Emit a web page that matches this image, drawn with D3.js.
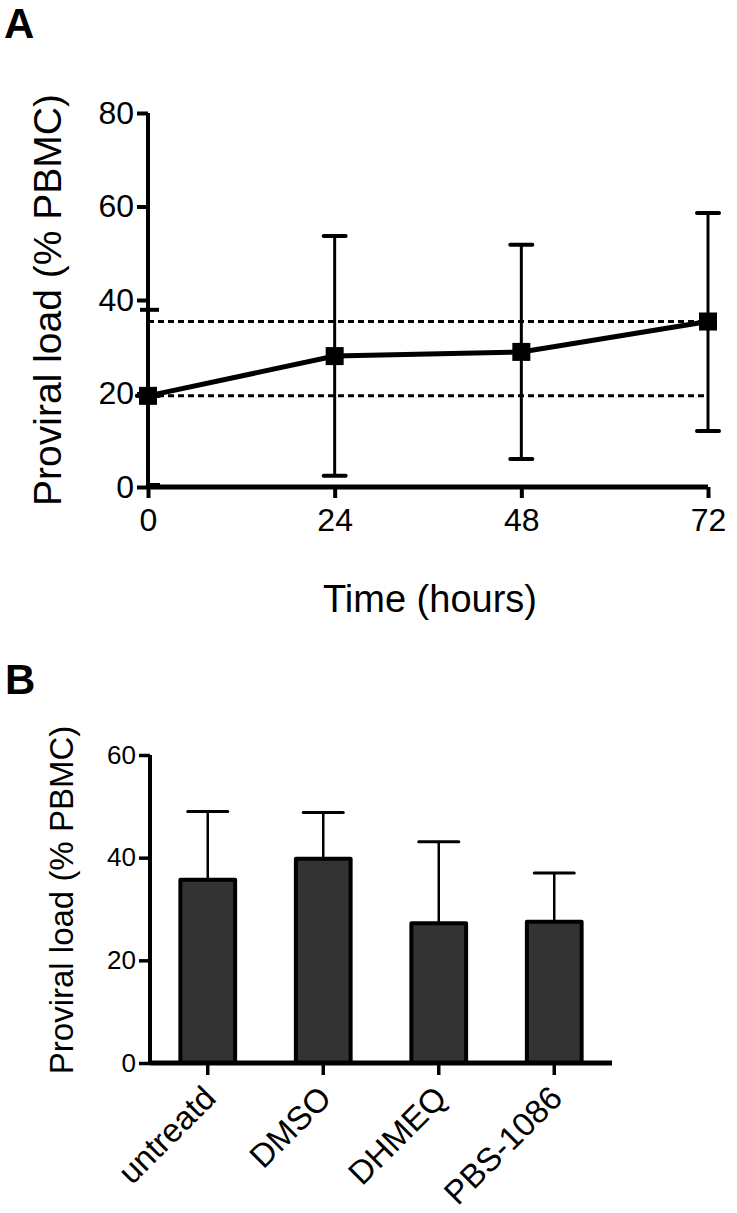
<!DOCTYPE html>
<html><head><meta charset="utf-8">
<script src="https://cdn.jsdelivr.net/npm/d3@7"></script>
<style>html,body{margin:0;padding:0;background:#fff;} svg{display:block;} text{font-family:"Liberation Sans",Arial,sans-serif;fill:#000;}</style>
</head><body>
<svg id="c" width="737" height="1213"></svg>
<script>
// Panel A data
const timePoints = [0, 24, 48, 72];
const meanLoad = [19.5, 28.0, 28.9, 35.4];
const errLow = [19.5, 2.4, 6.0, 12.0];
const errHigh = [19.5, 53.7, 51.8, 58.6];
const refLines = [35.4, 19.5];
const yTicksA = [0, 20, 40, 60, 80];
const xTicksA = [0, 24, 48, 72];
const extraTicksA = [37.9];

// Panel B data
const treatments = ["untreatd", "DMSO", "DHMEQ", "PBS-1086"];
const barMeans = [35.7, 39.8, 27.2, 27.5];
const barErrTop = [49.0, 48.8, 43.1, 37.0];
const yTicksB = [0, 20, 40, 60];

const svg = d3.select("#c");

// ---------- Panel A ----------
const xA = d3.scaleLinear().domain([0, 72]).range([148, 708]);
const yA = d3.scaleLinear().domain([0, 80]).range([487, 113]);
const gA = svg.append("g");

svg.append("text").attr("x", 4).attr("y", 38).attr("font-size", 42).attr("font-weight", "bold").text("A");

// dashed reference lines
gA.selectAll("line.ref").data(refLines).join("line")
  .attr("x1", xA(0)).attr("x2", xA(72))
  .attr("y1", d => yA(d)).attr("y2", d => yA(d))
  .attr("stroke", "#000").attr("stroke-width", 3).attr("stroke-dasharray", "6,4");

// y axis
const axYA = gA.append("g").attr("transform", `translate(${xA(0)},0)`)
  .call(d3.axisLeft(yA).tickValues(yTicksA).tickSize(11).tickPadding(3).tickFormat(d3.format("d")));
axYA.select(".domain").attr("stroke-width", 4).attr("d", `M0,${yA(80)}V${yA(0) + 2}`);
axYA.selectAll(".tick line").attr("stroke-width", 4);
axYA.selectAll(".tick text").attr("font-size", 32).attr("font-family", "Liberation Sans, Arial");
// small extra ticks
gA.selectAll("line.extra").data(extraTicksA).join("line")
  .attr("x1", xA(0) - 8).attr("x2", xA(0) + 11)
  .attr("y1", d => yA(d)).attr("y2", d => yA(d))
  .attr("stroke", "#000").attr("stroke-width", 4);
gA.append("line").attr("x1", xA(0)).attr("x2", xA(0) + 12)
  .attr("y1", yA(0) - 2).attr("y2", yA(0) - 2).attr("stroke", "#000").attr("stroke-width", 4);

// x axis
const axXA = gA.append("g").attr("transform", `translate(0,${yA(0)})`)
  .call(d3.axisBottom(xA).tickValues(xTicksA).tickSize(11).tickPadding(10).tickFormat(d3.format("d")));
axXA.select(".domain").attr("stroke-width", 5).attr("d", `M${xA(0)},0H${xA(72)}`);
axXA.selectAll(".tick line").attr("stroke-width", 4);
axXA.selectAll(".tick text").attr("font-size", 32).attr("font-family", "Liberation Sans, Arial");

// error bars
const capA = 11;
timePoints.forEach((t, i) => {
  gA.append("line").attr("x1", xA(t)).attr("x2", xA(t)).attr("y1", yA(errLow[i])).attr("y2", yA(errHigh[i]))
    .attr("stroke", "#000").attr("stroke-width", 3);
  [errLow[i], errHigh[i]].forEach(v => {
    gA.append("line").attr("x1", xA(t) - capA).attr("x2", xA(t) + capA).attr("y1", yA(v)).attr("y2", yA(v))
      .attr("stroke", "#000").attr("stroke-width", 4).attr("stroke-linecap", "round");
  });
});

// line
const lineA = d3.line().x((d, i) => xA(timePoints[i])).y(d => yA(d));
gA.append("path").datum(meanLoad).attr("d", lineA).attr("fill", "none").attr("stroke", "#000").attr("stroke-width", 5);
const ms = 18;
gA.selectAll("rect.m").data(meanLoad).join("rect")
  .attr("x", (d, i) => xA(timePoints[i]) - ms / 2).attr("y", d => yA(d) - ms / 2)
  .attr("width", ms).attr("height", ms).attr("fill", "#000");

// titles A
svg.append("text").attr("transform", "translate(61,300) rotate(-90)").attr("text-anchor", "middle")
  .attr("font-size", 39).text("Proviral load (% PBMC)");
svg.append("text").attr("x", 430).attr("y", 612).attr("text-anchor", "middle")
  .attr("font-size", 38).text("Time (hours)");

// ---------- Panel B ----------
svg.append("text").attr("x", 5).attr("y", 694).attr("font-size", 42).attr("font-weight", "bold").text("B");

const xB = d3.scaleBand().domain(treatments).range([150, 612]).paddingInner(0.5).paddingOuter(0.25);
const yB = d3.scaleLinear().domain([0, 60]).range([1063, 755]);
const gB = svg.append("g");

// error bars B (upper only)
const capB = 20;
treatments.forEach((c, i) => {
  const cx = xB(c) + xB.bandwidth() / 2;
  gB.append("line").attr("x1", cx).attr("x2", cx).attr("y1", yB(barMeans[i])).attr("y2", yB(barErrTop[i]))
    .attr("stroke", "#000").attr("stroke-width", 2.5);
  gB.append("line").attr("x1", cx - capB).attr("x2", cx + capB).attr("y1", yB(barErrTop[i])).attr("y2", yB(barErrTop[i]))
    .attr("stroke", "#000").attr("stroke-width", 3).attr("stroke-linecap", "round");
});

gB.selectAll("rect.bar").data(barMeans).join("rect")
  .attr("x", (d, i) => xB(treatments[i]) + 1.5).attr("width", xB.bandwidth() - 3)
  .attr("y", d => yB(d)).attr("height", d => yB(0) - yB(d))
  .attr("fill", "#333333").attr("stroke", "#000").attr("stroke-width", 4).attr("stroke-linejoin", "round");

const axYB = gB.append("g").attr("transform", "translate(150,0)")
  .call(d3.axisLeft(yB).tickValues(yTicksB).tickSize(11).tickPadding(3).tickFormat(d3.format("d")));
axYB.select(".domain").attr("stroke-width", 4).attr("d", `M0,${yB(60)}V${yB(0)}`);
axYB.selectAll(".tick line").attr("stroke-width", 3.5);
axYB.selectAll(".tick text").attr("font-size", 26).attr("font-family", "Liberation Sans, Arial");

const axXB = gB.append("g").attr("transform", `translate(0,${yB(0)})`)
  .call(d3.axisBottom(xB).tickSize(12).tickSizeOuter(0));
axXB.select(".domain").attr("stroke-width", 5).attr("d", "M150,0H612");
axXB.selectAll(".tick line").attr("stroke-width", 3.5);
axXB.selectAll(".tick text").attr("font-size", 33).attr("font-family", "Liberation Sans, Arial")
  .attr("text-anchor", "end").attr("y", 0).attr("dy", 0)
  .attr("transform", "translate(10,37) rotate(-45)");

svg.append("text").attr("transform", "translate(73,900) rotate(-90)").attr("text-anchor", "middle")
  .attr("font-size", 33).text("Proviral load (% PBMC)");
</script>
</body></html>
